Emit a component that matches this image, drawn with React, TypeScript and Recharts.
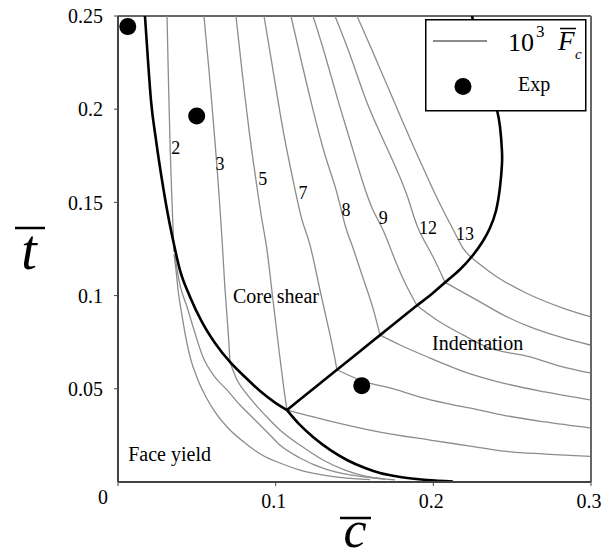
import {
  ComposedChart,
  Legend,
  Line,
  ReferenceDot,
  ReferenceLine,
  Scatter,
  XAxis,
  YAxis,
} from "recharts";

// failure map: x = core thickness c, y = face thickness t
const X_TICKS = [0, 0.1, 0.2, 0.3];
const Y_TICKS = [0.05, 0.1, 0.15, 0.2, 0.25];

// thick mechanism boundaries, [c, t]
const FACE_CORE_BOUNDARY = [
  [0.0171, 0.25], [0.019, 0.2264], [0.0209, 0.2049], [0.0241, 0.1835], [0.0279, 0.162],
  [0.0317, 0.1432], [0.0349, 0.1298], [0.0393, 0.1137], [0.0457, 0.0993], [0.0533, 0.0858],
  [0.0615, 0.0746], [0.071, 0.0644], [0.0806, 0.0563], [0.0901, 0.0488], [0.0996, 0.0426],
  [0.1072, 0.0386],
];
const FACE_INDENT_BOUNDARY = [
  [0.1072, 0.0386], [0.1154, 0.0306], [0.1237, 0.0241], [0.1345, 0.0172], [0.1452, 0.0118],
  [0.1567, 0.0075], [0.1662, 0.0048], [0.1789, 0.0027], [0.196, 0.0011], [0.2125, 0.0003],
];
const CORE_INDENT_BOUNDARY = [
  [0.1072, 0.0386], [0.1154, 0.0443], [0.1249, 0.0507], [0.1389, 0.0602], [0.1535, 0.0701],
  [0.1662, 0.0788], [0.1789, 0.0874], [0.1896, 0.0947], [0.1992, 0.101], [0.2087, 0.108],
  [0.2169, 0.114], [0.2252, 0.1218], [0.2315, 0.1293], [0.2359, 0.1363], [0.2397, 0.1454],
  [0.2423, 0.1583], [0.2435, 0.1701], [0.2435, 0.1781], [0.2423, 0.1905], [0.2404, 0.1996],
  [0.2372, 0.2103], [0.2328, 0.2237], [0.2283, 0.2371], [0.2245, 0.25],
];

// 10^3 Fc contours, core shear part
const CS_2 = [[0.0311, 0.25], [0.0317, 0.2264], [0.0323, 0.2049], [0.033, 0.1819], [0.0342, 0.1513], [0.0355, 0.1234]];
const CS_3 = [[0.0545, 0.25], [0.0577, 0.221], [0.0609, 0.1888], [0.0634, 0.162], [0.066, 0.1298], [0.0679, 0.103], [0.0698, 0.0815], [0.071, 0.0644]];
const CS_5 = [[0.0748, 0.25], [0.0786, 0.221], [0.0831, 0.1888], [0.0875, 0.162], [0.0913, 0.1406], [0.0945, 0.1245], [0.0983, 0.0976], [0.1021, 0.0708], [0.1053, 0.0494], [0.1072, 0.0386]];
const CS_7 = [[0.0926, 0.25], [0.0983, 0.221], [0.1047, 0.1888], [0.111, 0.162], [0.1167, 0.1406], [0.1218, 0.1271], [0.1281, 0.103], [0.1345, 0.0789], [0.1389, 0.0602]];
const CS_8 = [[0.1097, 0.25], [0.1161, 0.2264], [0.1237, 0.1996], [0.1313, 0.1754], [0.1383, 0.1567], [0.144, 0.1379], [0.1484, 0.1271], [0.1548, 0.111], [0.1611, 0.095], [0.1662, 0.0788]];
const CS_9 = [[0.1237, 0.25], [0.1313, 0.2291], [0.1395, 0.2049], [0.1471, 0.1835], [0.1548, 0.162], [0.1617, 0.1459], [0.1681, 0.1352], [0.1757, 0.1191], [0.1827, 0.1057], [0.1896, 0.0947]];
const CS_12 = [[0.1376, 0.25], [0.1472, 0.2291], [0.1573, 0.2049], [0.1668, 0.1862], [0.1763, 0.1685], [0.1839, 0.1524], [0.1903, 0.1363], [0.1992, 0.1218], [0.2074, 0.1071]];
const CS_13 = [[0.1516, 0.25], [0.1611, 0.2318], [0.1706, 0.213], [0.1801, 0.1942], [0.189, 0.177], [0.1979, 0.1604], [0.2061, 0.1459], [0.2137, 0.1336], [0.2188, 0.1255], [0.2239, 0.1206]];

// indentation part
const IN_13 = [[0.2239, 0.1206], [0.2404, 0.11], [0.2588, 0.1014], [0.2822, 0.0933], [0.2994, 0.0887]];
const IN_12 = [[0.2074, 0.1071], [0.2296, 0.0966], [0.2455, 0.0891], [0.2613, 0.0832], [0.2803, 0.0778], [0.2994, 0.0735]];
const IN_9 = [[0.1896, 0.0947], [0.2042, 0.0858], [0.2188, 0.0789], [0.234, 0.0724], [0.2613, 0.0671], [0.2803, 0.0622], [0.2994, 0.0585]];
const IN_8 = [[0.1662, 0.0788], [0.1789, 0.0735], [0.1979, 0.0665], [0.2201, 0.059], [0.2442, 0.0531], [0.2708, 0.0483], [0.2994, 0.044]];
const IN_7 = [[0.1389, 0.0602], [0.1535, 0.0547], [0.177, 0.0494], [0.1915, 0.0456], [0.2106, 0.0418], [0.2296, 0.0386], [0.2442, 0.0359], [0.2708, 0.0322], [0.2994, 0.029]];
const IN_5 = [[0.1072, 0.0386], [0.1218, 0.0354], [0.1345, 0.0327], [0.1662, 0.0268], [0.1979, 0.0225], [0.2233, 0.0193], [0.2442, 0.0166], [0.2708, 0.015], [0.2994, 0.0137]];

// face yield part
const FY_A = [[0.0355, 0.1223], [0.0368, 0.1137], [0.0381, 0.103], [0.04, 0.0923], [0.0425, 0.0799], [0.0457, 0.0671], [0.0507, 0.0547], [0.0558, 0.0456], [0.0615, 0.0376], [0.0698, 0.029], [0.0806, 0.0209], [0.0913, 0.0145], [0.1027, 0.0102], [0.1154, 0.0064], [0.1345, 0.0032], [0.1598, 0.0013]];
const FY_B = [[0.0361, 0.1212], [0.0393, 0.1057], [0.0438, 0.0939], [0.0488, 0.0799], [0.0539, 0.067], [0.0615, 0.0563], [0.0691, 0.0494], [0.0774, 0.0413], [0.0869, 0.0333], [0.0964, 0.0252], [0.1027, 0.0198], [0.1154, 0.0129], [0.1313, 0.007], [0.1472, 0.0038], [0.1693, 0.0016]];
const FY_C = [[0.071, 0.0644], [0.0755, 0.0547], [0.0806, 0.0483], [0.0869, 0.0418], [0.0951, 0.0343], [0.1027, 0.0279], [0.1154, 0.0198], [0.13, 0.0118], [0.144, 0.0064], [0.1567, 0.0032], [0.1757, 0.0011]];

const EXP = [[0.0062, 0.2443], [0.0499, 0.1963], [0.1546, 0.0517]];

const CONTOUR_LABELS: [string, number, number][] = [
  ["2", 0.0366, 0.1792], ["3", 0.0647, 0.1706], ["5", 0.0918, 0.1626], ["7", 0.1173, 0.155],
  ["8", 0.1446, 0.1459], ["9", 0.1683, 0.1416], ["12", 0.1966, 0.1363], ["13", 0.2201, 0.133],
];
const REGION_LABELS: [string, number, number][] = [
  ["Core shear", 0.0729, 0.096],
  ["Indentation", 0.1992, 0.0708],
  ["Face yield", 0.0065, 0.0113],
];

// vertical-ish lines need a parametric spline, the rest are x-monotone
const STEEP_LINES = [CS_2, CS_3, CS_5, CS_7, CS_8, CS_9, CS_12, CS_13];
const FLAT_LINES = [IN_13, IN_12, IN_9, IN_8, IN_7, IN_5, FY_A, FY_B, FY_C];

const toPts = (arr: number[][]) => arr.map(([c, t]) => ({ c, t }));

const SERIF = "Liberation Serif, Times New Roman, serif";
const GRAY = "#8c8c8c";

function XTick(props: any) {
  const { x, y, payload } = props;
  const zero = payload.value === 0;
  return (
    <text x={zero ? x - 15 : x - 2} y={zero ? y - 4 : y} dy="0.75em" textAnchor="middle" fontSize={20} fontFamily={SERIF} fill="#000">
      {String(payload.value)}
    </text>
  );
}

function XTitle(props: any) {
  const { x, y, width } = props.viewBox;
  const cx = x + width / 2 + 0.5;
  return (
    <g>
      <line x1={cx - 15} x2={cx + 16} y1={y + 36} y2={y + 36} stroke="#000" strokeWidth={2.5} />
      <text x={cx} y={y + 65} textAnchor="middle" fontSize={52} fontStyle="italic" fontFamily={SERIF} fill="#000">c</text>
    </g>
  );
}

function YTitle(props: any) {
  const { y, height } = props.viewBox;
  const cy = y + height / 2;
  return (
    <g>
      <line x1={15} x2={45} y1={cy - 21} y2={cy - 21} stroke="#000" strokeWidth={2.5} />
      <text x={29} y={cy + 20} textAnchor="middle" fontSize={56} fontStyle="italic" fontFamily={SERIF} fill="#000">t</text>
    </g>
  );
}

function LegendBox() {
  return (
    <svg width={162} height={93} style={{ display: "block" }}>
      <rect x={0.75} y={0.75} width={160} height={91} fill="#fff" stroke="#000" strokeWidth={1.5} />
      <line x1={8} x2={62} y1={22} y2={22} stroke={GRAY} strokeWidth={2} />
      <text x={83} y={32} fontSize={26} fontFamily={SERIF} fill="#000">10</text>
      <text x={111} y={18} fontSize={17} fontFamily={SERIF} fill="#000">3</text>
      <line x1={135} x2={151} y1={9.5} y2={9.5} stroke="#000" strokeWidth={1.5} />
      <text x={133} y={31} fontSize={27} fontStyle="italic" fontFamily={SERIF} fill="#000">F</text>
      <text x={150} y={40} fontSize={15} fontStyle="italic" fontFamily={SERIF} fill="#000">c</text>
      <circle cx={38} cy={67.5} r={8.5} fill="#000" />
      <text x={93} y={72} fontSize={20} fontFamily={SERIF} fill="#000">Exp</text>
    </svg>
  );
}

export default function App() {
  return (
    <div style={{ position: "absolute", left: 0, top: 0, width: 602, height: 559, background: "#fff" }}>
      <ComposedChart width={602} height={559} margin={{ top: 16, right: 11, bottom: 0, left: 0 }}>
        <XAxis
          dataKey="c"
          type="number"
          domain={[0, 0.3]}
          ticks={X_TICKS}
          allowDataOverflow
          height={77}
          tickSize={4}
          tickMargin={7}
          tick={<XTick />}
          axisLine={{ stroke: "#444", strokeWidth: 2 }}
          tickLine={{ stroke: "#444" }}
          label={{ content: XTitle }}
        />
        <YAxis
          dataKey="t"
          type="number"
          domain={[0, 0.25]}
          ticks={Y_TICKS}
          allowDataOverflow
          width={118}
          tickSize={4}
          tickMargin={11}
          tick={{ fontSize: 20, fontFamily: SERIF, fill: "#000" }}
          axisLine={{ stroke: "#444", strokeWidth: 2 }}
          tickLine={{ stroke: "#444" }}
          label={{ content: YTitle }}
        />
        <ReferenceLine y={0.25} stroke="#666" strokeWidth={2} />
        <ReferenceLine x={0.3} stroke="#666" strokeWidth={2} />
        {STEEP_LINES.map((d, i) => (
          <Line
            key={`s${i}`}
            data={toPts(d)}
            dataKey="t"
            type="natural"
            stroke={GRAY}
            strokeWidth={1.3}
            dot={false}
            activeDot={false}
            isAnimationActive={false}
          />
        ))}
        {FLAT_LINES.map((d, i) => (
          <Line
            key={`f${i}`}
            data={toPts(d)}
            dataKey="t"
            type="monotone"
            stroke={GRAY}
            strokeWidth={1.3}
            dot={false}
            activeDot={false}
            isAnimationActive={false}
          />
        ))}
        <Line data={toPts(FACE_CORE_BOUNDARY)} dataKey="t" type="monotone" stroke="#000" strokeWidth={2.6} dot={false} activeDot={false} isAnimationActive={false} />
        <Line data={toPts(FACE_INDENT_BOUNDARY)} dataKey="t" type="monotone" stroke="#000" strokeWidth={2.6} dot={false} activeDot={false} isAnimationActive={false} />
        <Line data={toPts(CORE_INDENT_BOUNDARY)} dataKey="t" type="natural" stroke="#000" strokeWidth={2.6} dot={false} activeDot={false} isAnimationActive={false} />
        <Scatter
          data={toPts(EXP)}
          dataKey="t"
          isAnimationActive={false}
          shape={(p: any) => <circle cx={p.cx} cy={p.cy} r={8.5} fill="#000" />}
        />
        {CONTOUR_LABELS.map(([txt, c, t]) => (
          <ReferenceDot
            key={`l${txt}`}
            x={c}
            y={t}
            r={0}
            shape={(p: any) => (
              <text x={p.cx} y={p.cy} textAnchor="middle" dominantBaseline="central" fontSize={18} fontFamily={SERIF} fill="#000">
                {txt}
              </text>
            )}
          />
        ))}
        {REGION_LABELS.map(([txt, c, t]) => (
          <ReferenceDot
            key={`r${txt}`}
            x={c}
            y={t}
            r={0}
            shape={(p: any) => (
              <text x={p.cx} y={p.cy} fontSize={20} fontFamily={SERIF} fill="#000">
                {txt}
              </text>
            )}
          />
        ))}
        <Legend
          layout="horizontal"
          verticalAlign="middle"
          align="center"
          wrapperStyle={{ left: 425, top: 19, width: 162, height: 93 }}
          content={LegendBox}
        />
      </ComposedChart>
    </div>
  );
}
